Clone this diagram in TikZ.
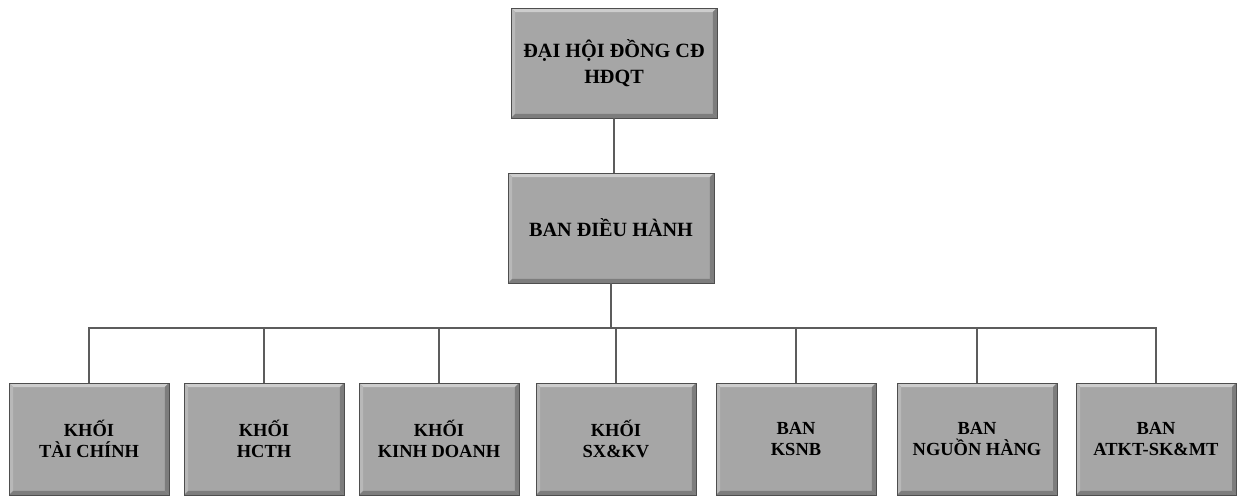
\documentclass[tikz,border=0pt]{standalone}
\usepackage{fontspec}
\setmainfont{Liberation Serif}
\definecolor{boxgray}{RGB}{166,166,166}
\definecolor{bevellight}{RGB}{205,205,205}
\definecolor{bevelleft}{RGB}{184,184,184}
\definecolor{beveldark}{RGB}{125,125,125}
\definecolor{edgedark}{RGB}{78,78,78}
\definecolor{linegray}{RGB}{92,92,92}
\tikzset{
  orgbox/.style={draw=edgedark, line width=0.5pt, fill=boxgray, align=center,
    inner sep=0pt, text=black,
    path picture={
      \fill[bevellight] (path picture bounding box.north west) -- (path picture bounding box.north east)
        -- ([shift={(-0.08cm,-0.08cm)}]path picture bounding box.north east)
        -- ([shift={(0.08cm,-0.08cm)}]path picture bounding box.north west) -- cycle;
      \fill[bevelleft] (path picture bounding box.north west) -- ([shift={(0.08cm,-0.08cm)}]path picture bounding box.north west)
        -- ([shift={(0.08cm,0.08cm)}]path picture bounding box.south west) -- (path picture bounding box.south west) -- cycle;
      \fill[beveldark] (path picture bounding box.north east) -- ([shift={(-0.08cm,-0.08cm)}]path picture bounding box.north east)
        -- ([shift={(-0.08cm,0.08cm)}]path picture bounding box.south east) -- (path picture bounding box.south east) -- cycle;
      \fill[beveldark] (path picture bounding box.south west) -- ([shift={(0.08cm,0.08cm)}]path picture bounding box.south west)
        -- ([shift={(-0.08cm,0.08cm)}]path picture bounding box.south east) -- (path picture bounding box.south east) -- cycle;
    }},
  topbox/.style={orgbox, minimum width=4.12cm, minimum height=2.2cm,
    font=\bfseries\fontsize{11.5}{15}\selectfont},
  unitbox/.style={orgbox, minimum width=3.2cm, minimum height=2.24cm,
    font=\bfseries\fontsize{10.5}{12}\selectfont},
  conn/.style={draw=linegray, line width=1.1pt}
}
\begin{document}
\begin{tikzpicture}[x=0.02cm,y=-0.02cm]
\useasboundingbox (0,0) rectangle (1240,503);
\node[topbox] (dhd) at (614,63) {ĐẠI HỘI ĐỒNG CĐ\\HĐQT};
\node[topbox] (bdh) at (611,228) {BAN ĐIỀU HÀNH};
\node[unitbox] (b1) at (89,439) {KHỐI\\TÀI CHÍNH};
\node[unitbox] (b2) at (264,439) {KHỐI\\HCTH};
\node[unitbox] (b3) at (439,439) {KHỐI\\KINH DOANH};
\node[unitbox] (b4) at (616,439) {KHỐI\\SX\&KV};
\node[unitbox] (b5) at (796,439) {BAN\\KSNB};
\node[unitbox] (b6) at (977,439) {BAN\\NGUỒN HÀNG};
\node[unitbox] (b7) at (1156,439) {BAN\\ATKT-SK\&MT};
\coordinate (bus) at (611,328);
\draw[conn] (dhd.south) -- (bdh.north -| dhd.south);
\draw[conn] (bdh.south) -- (bus);
\draw[conn] (b1.north) -- (b1.north |- bus) -- (b7.north |- bus) -- (b7.north);
\foreach \n in {b2,b3,b4,b5,b6}{
  \draw[conn] (\n.north) -- (\n.north |- bus);
}
\end{tikzpicture}
\end{document}
